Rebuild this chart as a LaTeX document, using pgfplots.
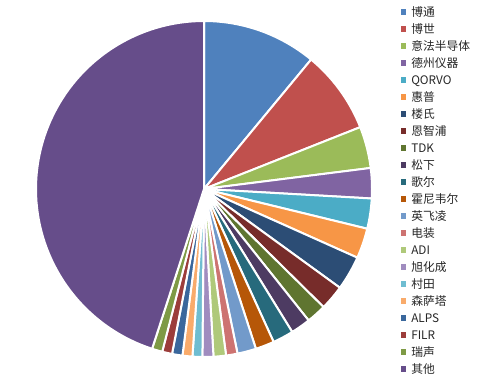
\documentclass[border=0pt]{standalone}
\usepackage{fontspec}
\setmainfont{Noto Sans CJK SC}
\usepackage{pgfplots}
\usepackage{pgfplotstable}
\pgfplotsset{compat=1.18}

\definecolor{c0}{HTML}{4F81BD}
\definecolor{c1}{HTML}{C0504D}
\definecolor{c2}{HTML}{9BBB59}
\definecolor{c3}{HTML}{8064A2}
\definecolor{c4}{HTML}{4BACC6}
\definecolor{c5}{HTML}{F79646}
\definecolor{c6}{HTML}{2C4D75}
\definecolor{c7}{HTML}{772C2A}
\definecolor{c8}{HTML}{5F7530}
\definecolor{c9}{HTML}{4D3B62}
\definecolor{c10}{HTML}{276A7C}
\definecolor{c11}{HTML}{B65708}
\definecolor{c12}{HTML}{729ACA}
\definecolor{c13}{HTML}{CD7371}
\definecolor{c14}{HTML}{AFC97A}
\definecolor{c15}{HTML}{A08CBF}
\definecolor{c16}{HTML}{6FBDD1}
\definecolor{c17}{HTML}{F9AB6B}
\definecolor{c18}{HTML}{3A679C}
\definecolor{c19}{HTML}{9C3D3B}
\definecolor{c20}{HTML}{7E9A45}
\definecolor{c21}{HTML}{664D8A}

% share of each company, percent
\pgfplotstableread[col sep=comma]{
name,value
博通,11.0
博世,8.0
意法半导体,4.0
德州仪器,2.9
QORVO,2.9
惠普,2.9
楼氏,3.3
恩智浦,2.4
TDK,1.9
松下,1.9
歌尔,2.0
霍尼韦尔,1.8
英飞凌,1.8
电装,1.1
ADI,1.2
旭化成,1.05
村田,0.95
森萨塔,0.95
ALPS,1.0
FILR,0.95
瑞声,1.0
其他,45.0
}\piedata

% cumulative angles (clockwise from 12 o'clock)
\gdef\cum{0}
\foreach \i in {0,...,21}{%
  \pgfplotstablegetelem{\i}{value}\of\piedata
  \pgfmathsetmacro\s{90-3.6*\cum}%
  \pgfmathsetmacro\newcum{\cum+\pgfplotsretval}%
  \pgfmathsetmacro\e{90-3.6*\newcum}%
  \expandafter\xdef\csname s\i\endcsname{\s}%
  \expandafter\xdef\csname e\i\endcsname{\e}%
  \xdef\cum{\newcum}%
}

\begin{document}
\begin{tikzpicture}
\useasboundingbox (0,0) rectangle (498bp,383bp);
\begin{axis}[
  at={(204bp,194bp)}, anchor=center,
  scale only axis, width=336bp, height=336bp,
  xmin=-1, xmax=1, ymin=-1, ymax=1,
  hide axis, clip=false,
  legend entries={博通,博世,意法半导体,德州仪器,QORVO,惠普,楼氏,恩智浦,TDK,松下,歌尔,霍尼韦尔,英飞凌,电装,ADI,旭化成,村田,森萨塔,ALPS,FILR,瑞声,其他},
  legend cell align=left,
  legend image code/.code={\fill[#1, draw=none] (0bp,-2.5bp) rectangle (5.5bp,3bp);},
  legend style={
    at={(1.085,1.045)}, anchor=north west,
    draw=none, fill=none, inner sep=0pt,
    font=\fontsize{11.8}{13}\selectfont, text=black!85,
    nodes={inner sep=0pt, text height=10bp, text depth=2bp},
    row sep=5bp, column sep=5bp,
  },
]
\pgfplotsforeachungrouped \i in {0,...,21}{%
  \edef\tmp{\noexpand\addplot[fill=c\i, draw=white, line width=2bp, line join=round,
     domain=\csname e\i\endcsname:\csname s\i\endcsname, samples=80, variable=\noexpand\t]
     ({cos(\noexpand\t)},{sin(\noexpand\t)}) -- (axis cs:0,0) -- cycle;}%
  \tmp
}
\end{axis}
\end{tikzpicture}
\end{document}
